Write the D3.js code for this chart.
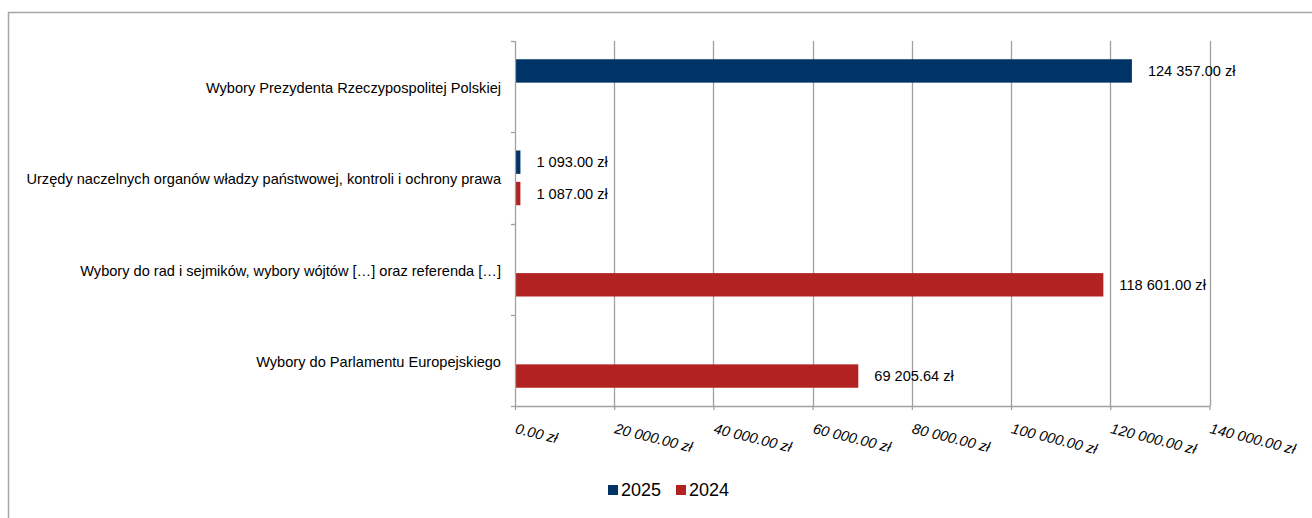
<!DOCTYPE html>
<html>
<head>
<meta charset="utf-8">
<script src="https://cdn.jsdelivr.net/npm/d3@7"></script>
<style>
  html, body { margin: 0; padding: 0; background: #fff; }
  body { width: 1312px; height: 518px; overflow: hidden; }
  svg text { font-family: "Liberation Sans", Arial, sans-serif; fill: #000; }
</style>
</head>
<body>
<svg id="chart" width="1312" height="518"></svg>
<script>
// ─── Data ──────────────────────────────────────────────
const categories = [
    'Wybory Prezydenta Rzeczypospolitej Polskiej',
    'Urzędy naczelnych organów władzy państwowej, kontroli i ochrony prawa',
    'Wybory do rad i sejmików, wybory wójtów […] oraz referenda […]',
    'Wybory do Parlamentu Europejskiego'
];
const seriesNames = ['2025', '2024'];
const values2025 = [124357, 1093, null, null];
const values2024 = [null, 1087, 118601, 69205.64];
const xTicks = [0, 20000, 40000, 60000, 80000, 100000, 120000, 140000];

const colors = { '2025': '#003366', '2024': '#b22222' };

// ─── Layout ────────────────────────────────────────────
const plot = { left: 515, right: 1209.5, top: 41, bottom: 406 };
const gridColor = '#a0a0a0';
const fontSize = '14.6px';

const pl = d3.formatLocale({ decimal: '.', thousands: '\u00a0', grouping: [3], currency: ['', ' zł'] });
const fmt = pl.format('$,.2f');

const svg = d3.select('#chart');

// outer chart frame (cropped on right and bottom)
svg.append('rect')
    .attr('x', 8.5).attr('y', 12.5)
    .attr('width', 1400).attr('height', 600)
    .attr('fill', 'none').attr('stroke', '#a6a6a6').attr('stroke-width', 1.5);

const x = d3.scaleLinear().domain([0, 140000]).range([plot.left, plot.right]);
const y0 = d3.scaleBand().domain(categories).range([plot.top, plot.bottom]).padding(0);
const y1 = d3.scaleBand().domain(seriesNames)
    .range([y0.bandwidth() * 0.2, y0.bandwidth() * 0.8])
    .paddingInner(0.254).paddingOuter(0);

// gridlines
svg.append('g')
    .selectAll('line')
    .data(xTicks.slice(1))
    .join('line')
    .attr('x1', d => Math.round(x(d)) + 0.5).attr('x2', d => Math.round(x(d)) + 0.5)
    .attr('y1', plot.top).attr('y2', plot.bottom)
    .attr('stroke', gridColor).attr('stroke-width', 1.3);

// bars
const rows = [];
categories.forEach((c, i) => {
    rows.push({ cat: c, s: '2025', v: values2025[i] });
    rows.push({ cat: c, s: '2024', v: values2024[i] });
});
const shown = rows.filter(d => d.v !== null);

svg.append('g')
    .selectAll('rect')
    .data(shown)
    .join('rect')
    .attr('x', x(0))
    .attr('y', d => y0(d.cat) + y1(d.s))
    .attr('width', d => x(d.v) - x(0))
    .attr('height', y1.bandwidth())
    .attr('fill', d => colors[d.s]);

// value labels
svg.append('g')
    .selectAll('text')
    .data(shown)
    .join('text')
    .attr('x', d => x(d.v) + 16)
    .attr('y', d => y0(d.cat) + y1(d.s) + y1.bandwidth() / 2)
    .attr('dy', '0.35em')
    .attr('font-size', fontSize)
    .text(d => fmt(d.v));

// x axis
const xAxis = svg.append('g')
    .attr('transform', `translate(0,${plot.bottom})`)
    .call(d3.axisBottom(x).tickValues(xTicks).tickSize(4).tickSizeOuter(0).tickFormat(fmt));
xAxis.select('.domain').attr('stroke', gridColor).attr('stroke-width', 1.3);
xAxis.selectAll('.tick line').attr('stroke', gridColor).attr('stroke-width', 1.3);
xAxis.selectAll('.tick text')
    .attr('font-size', fontSize)
    .attr('font-style', 'italic')
    .attr('font-family', '"Liberation Sans", Arial, sans-serif')
    .attr('text-anchor', 'start')
    .attr('x', 0).attr('y', 0).attr('dy', 0)
    .attr('transform', 'translate(-1,27) rotate(14)');

// y axis
const yAxis = svg.append('g')
    .attr('transform', `translate(${plot.left},0)`)
    .call(d3.axisLeft(y0).tickSize(0).tickPadding(14));
yAxis.select('.domain').remove();
yAxis.selectAll('.tick text')
    .attr('font-size', fontSize)
    .attr('dy', '0.45em')
    .attr('font-family', '"Liberation Sans", Arial, sans-serif');

// y axis line + boundary ticks
const bounds = categories.map(c => y0(c)).concat([plot.bottom]);
svg.append('line')
    .attr('x1', plot.left + 0.5).attr('x2', plot.left + 0.5)
    .attr('y1', plot.top).attr('y2', plot.bottom)
    .attr('stroke', gridColor).attr('stroke-width', 1.3);
svg.append('g')
    .selectAll('line')
    .data(bounds)
    .join('line')
    .attr('x1', plot.left - 4).attr('x2', plot.left)
    .attr('y1', d => Math.round(d) + 0.5).attr('y2', d => Math.round(d) + 0.5)
    .attr('stroke', gridColor).attr('stroke-width', 1.3);

// legend
const legend = svg.append('g').attr('transform', 'translate(608,485)');
const lx = [0, 68];
seriesNames.forEach((s, i) => {
    const g = legend.append('g').attr('transform', `translate(${lx[i]},0)`);
    g.append('rect').attr('width', 10).attr('height', 10).attr('fill', colors[s]);
    g.append('text').attr('x', 13).attr('y', 5).attr('dy', '0.36em')
        .attr('font-size', '18px').text(s);
});
</script>
</body>
</html>
